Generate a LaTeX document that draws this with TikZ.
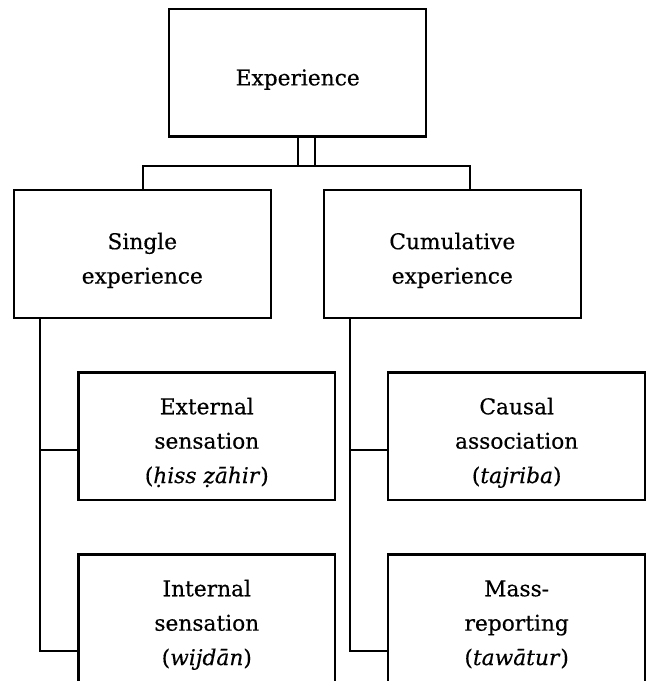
\documentclass[tikz,border=0pt]{standalone}
\usepackage{fontspec}
\setmainfont{DejaVu Serif}[FakeBold=0.4]
\usetikzlibrary{calc}
\newcommand{\boxtext}[1]{\raisebox{-4.2pt}[\height][\depth]{\begin{tabular}{@{}c@{}}#1\end{tabular}}}
\begin{document}
\begin{tikzpicture}[x=0.75pt,y=-0.75pt,
  box/.style={draw=black,line width=1.6pt,fill=white,minimum width=192.5pt,minimum height=95.5pt,
    align=center,inner sep=0pt,font=\fontsize{16.3pt}{25.8pt}\selectfont},
  conn/.style={draw=black,line width=1.6pt}]
\clip (0,0) rectangle (646,681);
\useasboundingbox (0,0) rectangle (646,681);
\node[box] (exp) at (297.7,72.9) {\boxtext{Experience}};
\node[box] (single) at (142.3,253.9) {\boxtext{Single\\experience}};
\node[box] (cum) at (452.3,253.9) {\boxtext{Cumulative\\experience}};
\node[box] (ext) at (206.8,436.2) {\boxtext{External\\sensation\\(\textit{ḥiss ẓāhir})}};
\node[box] (int) at (206.8,618.2) {\boxtext{Internal\\sensation\\(\textit{wijdān})}};
\node[box] (caus) at (516.7,436.2) {\boxtext{Causal\\association\\(\textit{tajriba})}};
\node[box] (mass) at (516.7,618.2) {\boxtext{Mass-\\reporting\\(\textit{tawātur})}};
% double connector under Experience
\coordinate (hl) at (143.3,166);
\coordinate (hr) at (470,166);
\coordinate (dl) at (297.7,166);
\coordinate (dr) at (315,166);
\draw[conn] (dl |- exp.south) -- (dl);
\draw[conn] (dr |- exp.south) -- (dr);
\draw[conn] (hl |- single.north) -- (hl) -- (hr) -- (hr |- cum.north);
% left trunk
\coordinate (tl) at ($(single.south west)+(26.7,0)$);
\draw[conn] (tl) |- ($(int.west)+(0,32.8)$);
\draw[conn] (tl |- ext.west) ++(0,13.8) -- ($(ext.west)+(0,13.8)$);
% right trunk
\coordinate (tr) at ($(cum.south west)+(26.7,0)$);
\draw[conn] (tr) |- ($(mass.west)+(0,32.8)$);
\draw[conn] (tr |- caus.west) ++(0,13.8) -- ($(caus.west)+(0,13.8)$);
\end{tikzpicture}
\end{document}
